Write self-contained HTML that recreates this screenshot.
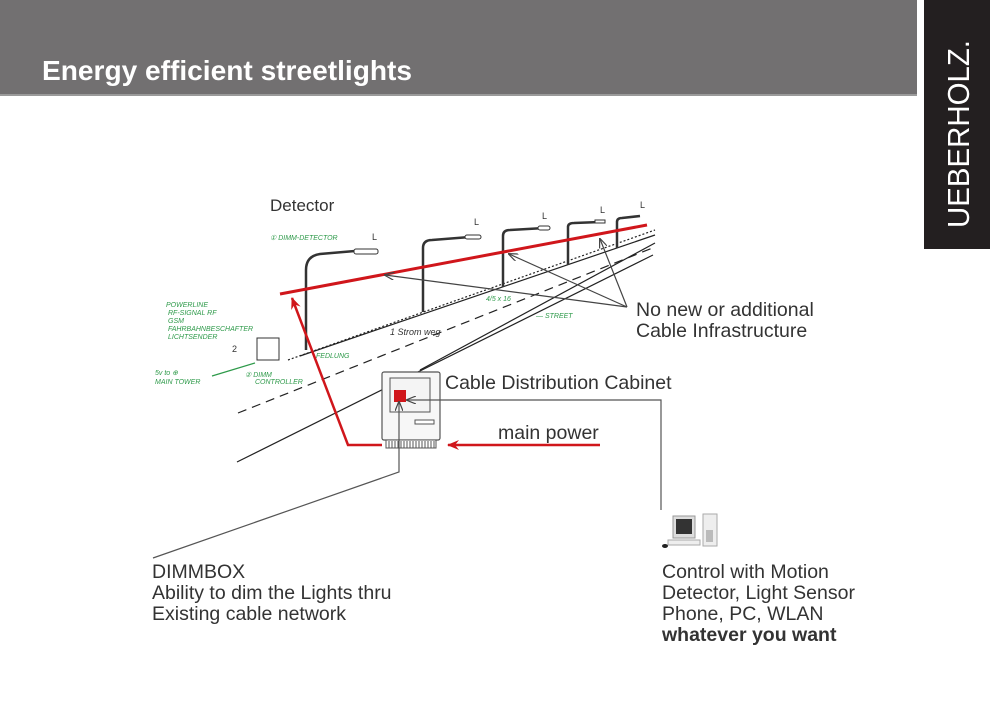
<!DOCTYPE html>
<html><head><meta charset="utf-8"><style>
body{margin:0;width:990px;height:700px;background:#fff;overflow:hidden;font-family:"Liberation Sans",Arial,sans-serif}
</style></head><body>
<svg width="990" height="700" viewBox="0 0 990 700" xmlns="http://www.w3.org/2000/svg" font-family="Liberation Sans, Arial, sans-serif">
<defs>
<marker id="ar" markerWidth="12" markerHeight="10" refX="11" refY="5" orient="auto" markerUnits="userSpaceOnUse"><path d="M0,0 L12,5 L0,10 L4,5z" fill="#d0161b"/></marker>
<marker id="ag" markerWidth="10" markerHeight="8" refX="9" refY="4" orient="auto" markerUnits="userSpaceOnUse"><path d="M0,0 L10,4 L0,8" fill="none" stroke="#444" stroke-width="1.2"/></marker>
</defs>
<rect x="0" y="0" width="917" height="95" fill="#727071"/>
<rect x="0" y="94" width="917" height="2" fill="#9a9a9a"/>
<text x="42" y="80" font-size="28" font-weight="bold" fill="#fff" textLength="370" lengthAdjust="spacingAndGlyphs">Energy efficient streetlights</text>
<rect x="924" y="0" width="66" height="249" fill="#231f20"/>
<text transform="translate(969,228) rotate(-90)" font-size="31" fill="#fff" textLength="188" lengthAdjust="spacingAndGlyphs">UEBERHOLZ.</text>

<!-- road -->
<g stroke="#222" fill="none" stroke-width="1.2">
<line x1="237" y1="462" x2="653" y2="255"/>
<line x1="420" y1="370" x2="655" y2="243"/>
<line x1="288" y1="360" x2="655" y2="230" stroke-dasharray="2,2"/>
<line x1="300" y1="356" x2="655" y2="235"/>
<line x1="238" y1="413" x2="655" y2="247" stroke-dasharray="9,6"/>
</g>
<!-- lamps -->
<g stroke="#333" fill="none" stroke-width="2.5">
<path d="M306,350 V270 Q306,256 320,254 L355,251"/>
<path d="M423,312 V248 Q423,240 432,240 L470,237"/>
<path d="M503,287 V236 Q503,230 510,230 L545,228"/>
<path d="M568,265 V227 Q568,223 574,223 L600,222"/>
<path d="M617,248 V222 Q617,218 622,218 L640,216"/>
</g>
<g fill="#fff" stroke="#333" stroke-width="1">
<rect x="354" y="249" width="24" height="5" rx="2"/>
<rect x="465" y="235" width="16" height="4" rx="2"/>
<rect x="538" y="226" width="12" height="4" rx="2"/>
<rect x="595" y="220" width="10" height="3"/>
</g>
<g font-size="9" fill="#333"><text x="372" y="240">L</text><text x="474" y="225">L</text><text x="542" y="219">L</text><text x="600" y="213">L</text><text x="640" y="208">L</text></g>
<!-- green notes -->
<g fill="#2e9a4a" font-size="7" font-style="italic">
<text x="270" y="240">① DIMM-DETECTOR</text>
<text x="166" y="307">POWERLINE</text><text x="168" y="315">RF-SIGNAL RF</text><text x="168" y="323">GSM</text><text x="168" y="331">FAHRBAHNBESCHAFTER</text><text x="168" y="339">LICHTSENDER</text>
<text x="155" y="375">5v to ⊕</text><text x="155" y="384">MAIN TOWER</text>
<text x="245" y="377">② DIMM</text><text x="255" y="384">CONTROLLER</text>
<text x="316" y="358">FEDLUNG</text><text x="536" y="318">— STREET</text><text x="486" y="301">4/5 x 16</text>
</g>
<line x1="212" y1="376" x2="255" y2="363" stroke="#2e9a4a" stroke-width="1.2"/>
<rect x="257" y="338" width="22" height="22" fill="#fff" stroke="#333"/>
<text x="232" y="352" font-size="9" fill="#333">2</text>
<text x="390" y="335" font-size="9" fill="#333" font-style="italic">1 Strom weg</text>

<!-- red line & arrows -->
<line x1="280" y1="294" x2="647" y2="225" stroke="#d0161b" stroke-width="3"/>
<path d="M382,445 H348 L292,298" fill="none" stroke="#d0161b" stroke-width="2.5" marker-end="url(#ar)"/>
<line x1="600" y1="445" x2="448" y2="445" stroke="#d0161b" stroke-width="2.5" marker-end="url(#ar)"/>

<!-- gray arrows -->
<g stroke="#444" stroke-width="1.2" fill="none" marker-end="url(#ag)">
<line x1="627" y1="307" x2="385" y2="275"/>
<line x1="627" y1="307" x2="509" y2="254"/>
<line x1="627" y1="307" x2="600" y2="239"/>
</g>

<!-- cabinet -->
<rect x="382" y="372" width="58" height="68" fill="#f7f7f7" stroke="#555" stroke-width="1.2" rx="2"/>
<rect x="390" y="378" width="40" height="34" fill="#f4f4f4" stroke="#555"/>
<rect x="394" y="390" width="12" height="12" fill="#d0161b"/>
<rect x="415" y="420" width="19" height="4" fill="#fff" stroke="#555"/>
<rect x="386" y="440" width="50" height="8" fill="#fff" stroke="#555"/>
<path d="M389,441v7M392,441v7M395,441v7M398,441v7M401,441v7M404,441v7M407,441v7M410,441v7M413,441v7M416,441v7M419,441v7M422,441v7M425,441v7M428,441v7M431,441v7M434,441v7" stroke="#555"/>

<!-- connectors -->
<path d="M661,510 V400 H407" fill="none" stroke="#555" stroke-width="1.2" marker-end="url(#ag)"/>
<path d="M153,558 L399,472 V402" fill="none" stroke="#555" stroke-width="1.2" marker-end="url(#ag)"/>

<!-- computer -->
<rect x="673" y="516" width="22" height="22" fill="#ddd" stroke="#999"/>
<rect x="676" y="519" width="16" height="15" fill="#333"/>
<rect x="668" y="540" width="32" height="5" fill="#eee" stroke="#aaa"/>
<rect x="703" y="514" width="14" height="32" fill="#eee" stroke="#aaa"/>
<rect x="706" y="530" width="7" height="12" fill="#bbb"/>
<ellipse cx="665" cy="546" rx="3" ry="2" fill="#222"/>

<!-- labels -->
<g fill="#333" font-size="19.5">
<text x="270" y="211" font-size="17">Detector</text>
<text x="445" y="389">Cable Distribution Cabinet</text>
<text x="498" y="439">main power</text>
<text x="636" y="316">No new or additional</text>
<text x="636" y="337">Cable Infrastructure</text>
<text x="152" y="578">DIMMBOX</text>
<text x="152" y="599">Ability to dim the Lights thru</text>
<text x="152" y="620">Existing cable network</text>
<text x="662" y="578">Control with Motion</text>
<text x="662" y="599">Detector, Light Sensor</text>
<text x="662" y="620">Phone, PC, WLAN</text>
<text x="662" y="641" font-weight="bold">whatever you want</text>
</g>
</svg>
</body></html>
